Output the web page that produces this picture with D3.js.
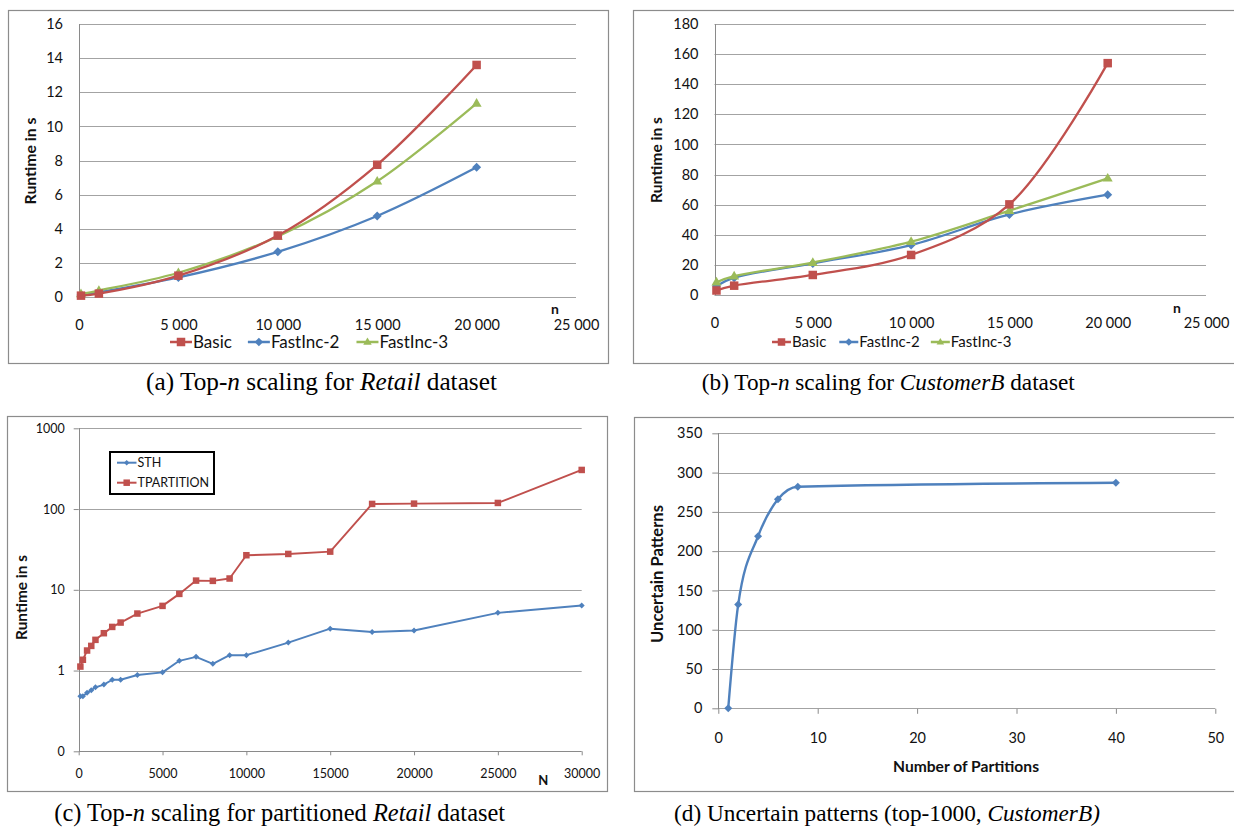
<!DOCTYPE html>
<html><head><meta charset="utf-8">
<script src="https://cdn.jsdelivr.net/npm/d3@7"></script>
<style>body{margin:0;background:#fff} svg{display:block}</style>
</head><body>
<svg id="c" width="1234" height="827"></svg>
<script>
// ---------------- DATA ----------------
const nRetail = [100, 1000, 5000, 10000, 15000, 20000];
const retailBasic = [0.08, 0.2, 1.25, 3.6, 7.75, 13.6];
const retailFast2 = [0.12, 0.28, 1.15, 2.65, 4.75, 7.6];
const retailFast3 = [0.18, 0.38, 1.42, 3.55, 6.78, 11.35];

const nCust = [100, 1000, 5000, 10000, 15000, 20000];
const custBasic = [3, 6.2, 13.3, 26.6, 60.2, 154];
const custFast2 = [6, 11.5, 21, 33.2, 53.5, 66.6];
const custFast3 = [8.5, 12.5, 21.5, 35.4, 56, 77.5];

const nPart = [100, 250, 500, 750, 1000, 1500, 2000, 2500, 3500, 5000, 6000, 7000, 8000, 9000, 10000, 12500, 15000, 17500, 20000, 25000, 30000];
const sth   = [0.48, 0.48, 0.53, 0.57, 0.62, 0.67, 0.77, 0.77, 0.88, 0.95, 1.32, 1.48, 1.21, 1.55, 1.55, 2.22, 3.3, 3.0, 3.13, 5.18, 6.38];
const tpart = [1.12, 1.36, 1.77, 2.02, 2.4, 2.9, 3.47, 3.93, 5.08, 6.32, 8.9, 13.0, 12.9, 13.8, 26.8, 27.8, 29.7, 115.7, 116.7, 119, 305];

const partitions = [1, 2, 4, 6, 8, 40];
const uncertain = [0, 132, 219, 266, 282, 287];

const xTicksTopN = [0, 5000, 10000, 15000, 20000, 25000];
const yTicksRetail = [0, 2, 4, 6, 8, 10, 12, 14, 16];
const yTicksCust = [0, 20, 40, 60, 80, 100, 120, 140, 160, 180];
const xTicksPart = [0, 5000, 10000, 15000, 20000, 25000, 30000];
const yTicksPart = [0.1, 1, 10, 100, 1000];
const yTickLabelsPart = ["0", "1", "10", "100", "1000"];
const xTicksUnc = [0, 10, 20, 30, 40, 50];
const yTicksUnc = [0, 50, 100, 150, 200, 250, 300, 350];

const seriesNames3 = ["Basic", "FastInc-2", "FastInc-3"];
const seriesNamesC = ["STH", "TPARTITION"];

// ---------------- STYLE ----------------
const RED = "#C0504D", BLUE = "#4F81BD", GREEN = "#9BBB59";
const GRID = "#a3a3a3", AXIS = "#8a8a8a", FRAME = "#8c8c8c", TXT = "#111";
const FONT = "Lato, 'Open Sans', sans-serif";
const SERIF = "'Liberation Serif', 'DejaVu Serif', serif";

const svg = d3.select("#c");
const spaceFmt = d3.formatLocale({decimal: ".", thousands: " ", grouping: [3], currency: ["", ""]}).format(",d");

function frame(x0, y0, x1, y1) {
  svg.append("rect").attr("x", x0 + 0.5).attr("y", y0 + 0.5)
    .attr("width", x1 - x0).attr("height", y1 - y0)
    .attr("fill", "none").attr("stroke", FRAME).attr("stroke-width", 1.2);
}

function marker(g, type, x, y, s, color) {
  let p;
  if (type === "square") {
    p = g.append("rect").attr("x", x - s / 2).attr("y", y - s / 2).attr("width", s).attr("height", s);
  } else if (type === "diamond") {
    const h = s / 2;
    p = g.append("path").attr("d", `M${x},${y - h}L${x + h},${y}L${x},${y + h}L${x - h},${y}Z`);
  } else {
    const h = s * 0.866;
    p = g.append("path").attr("d", `M${x},${y - h * 0.62}L${x + s / 2},${y + h * 0.38}L${x - s / 2},${y + h * 0.38}Z`);
  }
  p.attr("fill", color).attr("stroke", "none");
}

function fitText(sel, target) {
  const n = sel.node();
  const w = n.getComputedTextLength();
  const fs = parseFloat(sel.attr("font-size"));
  sel.attr("font-size", (fs * target / w).toFixed(2));
}

function styleAxis(g, fs) {
  g.select(".domain").remove();
  g.selectAll("text").attr("font-family", FONT).attr("font-size", fs).attr("fill", TXT);
  g.selectAll("line").attr("stroke", AXIS);
}

function drawSeries(g, xs, ys, x, y, color, mtype, msize, lw, curve) {
  const line = d3.line().x((d, i) => x(xs[i])).y(d => y(d)).curve(curve);
  g.append("path").datum(ys).attr("d", line).attr("fill", "none")
    .attr("stroke", color).attr("stroke-width", lw).attr("stroke-linejoin", "round");
  ys.forEach((v, i) => marker(g, mtype, x(xs[i]), y(v), msize, color));
}

function hLegend(g, startX, cy, names, colors, types, lineLen, fs, gaps, msize) {
  let cx = startX;
  names.forEach((nm, i) => {
    g.append("line").attr("x1", cx).attr("x2", cx + lineLen).attr("y1", cy).attr("y2", cy)
      .attr("stroke", colors[i]).attr("stroke-width", 2.5);
    marker(g, types[i], cx + lineLen / 2, cy, msize, colors[i]);
    const t = g.append("text").attr("x", cx + lineLen + 1).attr("y", cy).attr("dy", "0.36em")
      .attr("font-family", FONT).attr("font-size", fs).attr("fill", TXT).text(nm);
    cx += lineLen + 1 + t.node().getComputedTextLength() + gaps[i];
  });
}

function caption(cx, by, parts, target) {
  const t = svg.append("text").attr("x", cx).attr("y", by).attr("text-anchor", "middle")
    .attr("font-family", SERIF).attr("font-size", 20).attr("fill", "#000");
  parts.forEach(p => t.append("tspan").attr("font-style", p[1] ? "italic" : "normal").text(p[0]));
  fitText(t, target);
}

function yTitle(cx, cy, label, target) {
  const t = svg.append("text").attr("transform", `translate(${cx},${cy}) rotate(-90)`)
    .attr("text-anchor", "middle").attr("dy", "0.35em")
    .attr("font-family", FONT).attr("font-weight", "bold").attr("font-size", 14).attr("fill", TXT).text(label);
  fitText(t, target);
}

function gridH(g, ticks, y, x0, x1) {
  ticks.forEach(v => g.append("line").attr("x1", x0).attr("x2", x1)
    .attr("y1", Math.round(y(v)) + 0.5).attr("y2", Math.round(y(v)) + 0.5)
    .attr("stroke", GRID).attr("stroke-width", 1));
}
function vAxisLine(g, x, y0, y1) {
  g.append("line").attr("x1", Math.round(x) + 0.5).attr("x2", Math.round(x) + 0.5)
    .attr("y1", y0).attr("y2", y1).attr("stroke", AXIS).attr("stroke-width", 1);
}

const smooth = d3.curveCatmullRom.alpha(0.5);

// ---------------- PANEL A ----------------
frame(8, 10, 608, 363);
{
  const g = svg.append("g");
  const x = d3.scaleLinear().domain([0, 25000]).range([79, 576]);
  const y = d3.scaleLinear().domain([0, 16]).range([297, 24]);
  gridH(g, yTicksRetail, y, 79, 576);
  vAxisLine(g, 79, 24, 297);
  g.append("g").attr("transform", "translate(79,0)")
    .call(d3.axisLeft(y).tickValues(yTicksRetail).tickSize(0).tickPadding(16)).call(s => styleAxis(s, 14.5));
  g.append("g").attr("transform", "translate(0,297)")
    .call(d3.axisBottom(x).tickValues(xTicksTopN).tickFormat(spaceFmt).tickSize(0).tickPadding(22.5)).call(s => styleAxis(s, 14.5));
  drawSeries(g, nRetail, retailFast2, x, y, BLUE, "diamond", 9, 2.3, smooth);
  drawSeries(g, nRetail, retailFast3, x, y, GREEN, "triangle", 10, 2.3, smooth);
  drawSeries(g, nRetail, retailBasic, x, y, RED, "square", 8.5, 2.3, smooth);
  g.append("text").attr("x", 555).attr("y", 314).attr("text-anchor", "middle")
    .attr("font-family", FONT).attr("font-weight", "bold").attr("font-size", 14).attr("fill", TXT).text("n");
  hLegend(g, 170, 342, seriesNames3, [RED, BLUE, GREEN], ["square", "diamond", "triangle"], 22, 17, [16, 17, 0], 8.5);
  yTitle(30, 161, "Runtime in s", 87);
}

// ---------------- PANEL B ----------------
frame(633, 10, 1240, 363);
{
  const g = svg.append("g");
  const x = d3.scaleLinear().domain([0, 25000]).range([714.5, 1206]);
  const y = d3.scaleLinear().domain([0, 180]).range([295, 24]);
  gridH(g, yTicksCust, y, 714.5, 1206);
  vAxisLine(g, 714.5, 24, 295);
  g.append("g").attr("transform", "translate(714.5,0)")
    .call(d3.axisLeft(y).tickValues(yTicksCust).tickSize(0).tickPadding(16)).call(s => styleAxis(s, 14.5));
  g.append("g").attr("transform", "translate(0,295)")
    .call(d3.axisBottom(x).tickValues(xTicksTopN).tickFormat(spaceFmt).tickSize(0).tickPadding(22.5)).call(s => styleAxis(s, 14.5));
  drawSeries(g, nCust, custFast2, x, y, BLUE, "diamond", 9, 2.3, smooth);
  drawSeries(g, nCust, custFast3, x, y, GREEN, "triangle", 10, 2.3, smooth);
  drawSeries(g, nCust, custBasic, x, y, RED, "square", 8.5, 2.3, smooth);
  g.append("text").attr("x", 1177).attr("y", 312.5).attr("text-anchor", "middle")
    .attr("font-family", FONT).attr("font-weight", "bold").attr("font-size", 14).attr("fill", TXT).text("n");
  hLegend(g, 772, 342, seriesNames3, [RED, BLUE, GREEN], ["square", "diamond", "triangle"], 19, 15, [13, 11, 0], 7.5);
  yTitle(657, 160, "Runtime in s", 86);
}

// ---------------- PANEL C ----------------
frame(7, 416, 607, 791);
{
  const g = svg.append("g");
  const x = d3.scaleLinear().domain([0, 30000]).range([78.7, 581.7]);
  const y = d3.scaleLog().domain([0.1, 1000]).range([751.3, 428.3]);
  gridH(g, yTicksPart.slice(1), y, 78.7, 581.7);
  g.append("line").attr("x1", 78.7).attr("x2", 581.7).attr("y1", 751.5).attr("y2", 751.5).attr("stroke", AXIS);
  vAxisLine(g, 78.7, 428, 752);
  g.append("g").attr("transform", "translate(78.7,0)")
    .call(d3.axisLeft(y).tickValues(yTicksPart).tickFormat((d, i) => yTickLabelsPart[i]).tickSize(5).tickPadding(9)).call(s => styleAxis(s, 12.5));
  g.append("g").attr("transform", "translate(0,751.3)")
    .call(d3.axisBottom(x).tickValues(xTicksPart).tickFormat(d3.format("d")).tickSize(4).tickPadding(14)).call(s => styleAxis(s, 12.5));
  drawSeries(g, nPart, sth, x, y, BLUE, "diamond", 6, 1.9, d3.curveLinear);
  drawSeries(g, nPart, tpart, x, y, RED, "square", 6.5, 1.9, d3.curveLinear);
  g.append("text").attr("x", 543.3).attr("y", 785).attr("text-anchor", "middle")
    .attr("font-family", FONT).attr("font-weight", "bold").attr("font-size", 13).attr("fill", TXT).text("N");
  // legend box
  g.append("rect").attr("x", 110).attr("y", 452).attr("width", 104).attr("height", 42)
    .attr("fill", "#fff").attr("stroke", "#000").attr("stroke-width", 2);
  [[BLUE, "diamond", 462.7, 5.5], [RED, "square", 482.7, 6.5]].forEach((e, i) => {
    g.append("line").attr("x1", 117).attr("x2", 136.5).attr("y1", e[2]).attr("y2", e[2]).attr("stroke", e[0]).attr("stroke-width", 2);
    marker(g, e[1], 126.7, e[2], e[3], e[0]);
    g.append("text").attr("x", 137.5).attr("y", e[2]).attr("dy", "0.36em")
      .attr("font-family", FONT).attr("font-size", 12.5).attr("fill", TXT).text(seriesNamesC[i]);
  });
  yTitle(22, 597.5, "Runtime in s", 85);
}

// ---------------- PANEL D ----------------
frame(634, 417, 1240, 791);
{
  const g = svg.append("g");
  const x = d3.scaleLinear().domain([0, 50]).range([718.3, 1215.3]);
  const y = d3.scaleLinear().domain([0, 350]).range([708.3, 433.3]);
  gridH(g, yTicksUnc, y, 718.3, 1215.3);
  vAxisLine(g, 718.3, 433, 709);
  g.append("g").attr("transform", "translate(718.3,0)")
    .call(d3.axisLeft(y).tickValues(yTicksUnc).tickSize(6).tickPadding(10)).call(s => styleAxis(s, 14.5));
  g.append("g").attr("transform", "translate(0,708.8)")
    .call(d3.axisBottom(x).tickValues(xTicksUnc).tickSize(5).tickPadding(18.5)).call(s => styleAxis(s, 14.5));
  drawSeries(g, partitions, uncertain, x, y, BLUE, "diamond", 8, 2.4, d3.curveMonotoneX);
  const t = g.append("text").attr("x", 966).attr("y", 771.5).attr("text-anchor", "middle")
    .attr("font-family", FONT).attr("font-weight", "bold").attr("font-size", 14).attr("fill", TXT).text("Number of Partitions");
  fitText(t, 146);
  yTitle(657, 574, "Uncertain Patterns", 138);
}

// ---------------- CAPTIONS ----------------
caption(321.5, 390, [["(a) Top-", false], ["n", true], [" scaling for ", false], ["Retail", true], [" dataset", false]], 351);
caption(888.3, 390, [["(b) Top-", false], ["n", true], [" scaling for ", false], ["CustomerB", true], [" dataset", false]], 373);
caption(279.7, 821, [["(c) Top-", false], ["n", true], [" scaling for partitioned ", false], ["Retail", true], [" dataset", false]], 451);
caption(887, 821, [["(d) Uncertain patterns (top-1000, ", false], ["CustomerB)", true]], 426);
</script>
</body></html>
